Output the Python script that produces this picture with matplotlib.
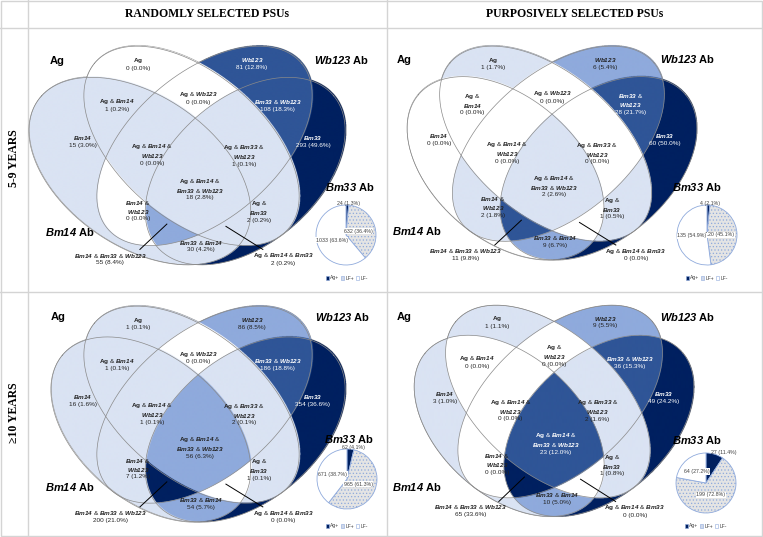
import numpy as np
import matplotlib
matplotlib.use("Agg")
import matplotlib.pyplot as plt
from matplotlib.patches import Rectangle

W, H = 763, 537
plt.rcParams['font.family'] = ['Liberation Sans', 'DejaVu Sans']
plt.rcParams['mathtext.fontset'] = 'custom'
plt.rcParams['mathtext.rm'] = 'Liberation Sans'
plt.rcParams['mathtext.it'] = 'Liberation Sans:italic'
plt.rcParams['mathtext.bf'] = 'Liberation Sans:bold'
plt.rcParams['mathtext.sf'] = 'Liberation Sans:bold:italic'
plt.rcParams['hatch.color'] = '#9a9a9a'
plt.rcParams['hatch.linewidth'] = 0.5

# ---------------- data ----------------
col_titles = ["RANDOMLY SELECTED PSUs", "PURPOSIVELY SELECTED PSUs"]
row_titles = ["5-9 YEARS", "\u226510 YEARS"]

regions = ["Ag", "Wb123", "Bm14", "Bm33", "Ag&Bm14", "Ag&Wb123", "Bm33&Wb123",
           "Bm14&Wb123", "Bm33&Bm14", "Ag&Bm14&Wb123", "Ag&Bm33&Wb123", "Ag&Bm33",
           "Ag&Bm14&Bm33", "Bm14&Bm33&Wb123", "Ag&Bm14&Bm33&Wb123"]

counts_rand_59 = [0, 81, 15, 293, 1, 0, 108, 0, 30, 0, 1, 2, 2, 55, 18]
pct_rand_59 = [0.0, 12.8, 3.0, 49.6, 0.2, 0.0, 18.3, 0.0, 4.2, 0.0, 0.1, 0.2, 0.2, 8.4, 2.8]
shade_rand_59 = [0, 3, 1, 4, 1, 0, 3, 0, 1, 1, 1, 1, 1, 2, 1]

counts_purp_59 = [1, 6, 0, 60, 0, 0, 28, 2, 9, 0, 0, 1, 0, 11, 2]
pct_purp_59 = [1.7, 5.4, 0.0, 50.0, 0.0, 0.0, 21.7, 1.8, 6.7, 0.0, 0.0, 0.5, 0.0, 9.8, 2.6]
shade_purp_59 = [1, 2, 0, 4, 0, 0, 3, 1, 2, 0, 0, 1, 0, 3, 1]

counts_rand_10 = [1, 86, 16, 354, 1, 0, 186, 7, 54, 1, 2, 1, 0, 200, 56]
pct_rand_10 = [0.1, 8.5, 1.6, 36.6, 0.1, 0.0, 18.8, 1.2, 5.7, 0.1, 0.1, 0.1, 0.0, 21.0, 6.3]
shade_rand_10 = [1, 2, 1, 4, 1, 0, 3, 1, 2, 1, 1, 1, 0, 4, 2]

counts_purp_10 = [1, 9, 3, 49, 0, 0, 36, 0, 10, 0, 2, 1, 0, 65, 23]
pct_purp_10 = [1.1, 5.5, 1.0, 24.2, 0.0, 0.0, 15.3, 0.0, 5.0, 0.0, 1.6, 0.8, 0.0, 33.6, 12.0]
shade_purp_10 = [1, 2, 1, 4, 0, 0, 3, 0, 2, 0, 1, 1, 0, 4, 3]

# pie: Ag+, LF+, LF-
pie_labels = ["Ag+", "LF+", "LF-"]
pie_rand_59 = [24, 632, 1033]
pie_pct_rand_59 = [1.3, 36.4, 63.6]
pie_purp_59 = [4, 120, 135]
pie_pct_purp_59 = [2.1, 45.1, 54.9]
pie_rand_10 = [62, 965, 671]
pie_pct_rand_10 = [4.1, 61.3, 38.7]
pie_purp_10 = [27, 199, 64]
pie_pct_purp_10 = [11.4, 72.8, 27.2]

# label text of each region (line breaks per panel)
base_names = ["Ag", "Wb123", "Bm14", "Bm33", "Ag & Bm14", "Ag & Wb123", "Bm33 & Wb123",
              "Bm14 &\nWb123", "Bm33 & Bm14", "Ag & Bm14 &\nWb123", "Ag & Bm33 &\nWb123",
              "Ag &\nBm33", "Ag & Bm14 & Bm33", "Bm14 & Bm33 & Wb123",
              "Ag & Bm14 &\nBm33 & Wb123"]
names_purp_59 = list(base_names)
names_purp_59[4] = "Ag &\nBm14"
names_purp_59[6] = "Bm33 &\nWb123"
names_purp_10 = list(base_names)
names_purp_10[5] = "Ag &\nWb123"

# ---------------- geometry (template, unit square, y up) ----------------
set_bits = {"Ag": 1, "Bm14": 2, "Wb123": 4, "Bm33": 8}
ellipses = [  # name, cx, cy, width, height, angle
    ("Bm14", 0.350, 0.400, 0.72, 0.45, 140.0),
    ("Ag", 0.4768, 0.4775, 0.79, 0.45, 140.0),
    ("Wb123", 0.5172, 0.4775, 0.79, 0.45, 40.0),
    ("Bm33", 0.644, 0.400, 0.72, 0.45, 40.0),
]
label_uv = [(0.310, 0.732), (0.665, 0.732), (0.139, 0.492), (0.855, 0.492),
            (0.245, 0.604), (0.497, 0.626), (0.745, 0.604), (0.310, 0.280),
            (0.506, 0.171), (0.354, 0.452), (0.640, 0.450), (0.687, 0.277),
            (0.762, 0.131), (0.223, 0.131), (0.503, 0.346)]
external = {12: ((0.699, 0.159), (0.584, 0.230)), 13: ((0.316, 0.159), (0.400, 0.237))}

shade_colors = ['#FFFFFF', '#DAE3F3', '#8FAADC', '#2F5597', '#002060']
navy = '#002060'

layout = [
    dict(axx=198, top=45, sx=321, sy=325, stretch={"Bm14": 1.11}, pie=(346, 235),
         agl=(57, 61), wbl=(342, 60), b14l=(70, 232), b33l=(350, 187), leg=(348, 278)),
    dict(axx=552, top=45, sx=316, sy=318, stretch={}, pie=(707, 235),
         agl=(404, 60), wbl=(688, 59), b14l=(417, 231), b33l=(697, 187), leg=(708, 278)),
    dict(axx=198, top=305, sx=321, sy=321, stretch={}, pie=(347, 479),
         agl=(58, 317), wbl=(343, 317), b14l=(70, 487), b33l=(349, 439), leg=(348, 526)),
    dict(axx=554, top=304, sx=305, sy=314, stretch={}, pie=(706, 483),
         agl=(404, 317), wbl=(688, 317), b14l=(417, 487), b33l=(697, 440), leg=(707, 526)),
]
panels = [
    (counts_rand_59, pct_rand_59, shade_rand_59, base_names, pie_rand_59, pie_pct_rand_59),
    (counts_purp_59, pct_purp_59, shade_purp_59, names_purp_59, pie_purp_59, pie_pct_purp_59),
    (counts_rand_10, pct_rand_10, shade_rand_10, base_names, pie_rand_10, pie_pct_rand_10),
    (counts_purp_10, pct_purp_10, shade_purp_10, names_purp_10, pie_purp_10, pie_pct_purp_10),
]

fig = plt.figure(figsize=(W / 100, H / 100), dpi=100)
ax = fig.add_axes([0, 0, 1, 1])
ax.set_xlim(0, W)
ax.set_ylim(H, 0)
ax.axis('off')

# ---------------- grid / titles ----------------
gc = '#d4d4d4'
ax.add_patch(Rectangle((0.5, 0.5), W - 1.5, H - 1.5, fill=False, ec=gc, lw=1))
for x in (28, 387):
    ax.plot([x, x], [0, H], color=gc, lw=1)
for y in (28, 292):
    ax.plot([0, W], [y, y], color=gc, lw=1)
serif = ['Liberation Serif', 'DejaVu Serif']
for x, t in zip((207, 575), col_titles):
    ax.text(x, 14, t, ha='center', va='center', fontsize=8.5, fontweight='bold', family=serif)
for y, t in zip((158, 413), row_titles):
    ax.text(14, y, t, ha='center', va='center', rotation=90, fontsize=8.5,
            fontweight='bold', family=serif)


def fmt_names(s):
    out = []
    for ln in s.split("\n"):
        parts = []
        for tok in ln.split(" "):
            if tok == "&":
                parts.append("&")
            elif tok == "Ag":
                parts.append(r"$\mathbf{Ag}$")
            else:
                parts.append(r"$\mathsf{%s}$" % tok)
        out.append(" ".join(parts))
    return "\n".join(out)


def to_px(L, u, v):
    return L['axx'] + (u - 0.497) * L['sx'], L['top'] + (0.788 - v) * L['sy']


def ell_geom(cx, cy, w, h, ang):
    t = np.deg2rad(ang)
    a, b = w / 2, h / 2
    half_w = np.sqrt((a * np.cos(t)) ** 2 + (b * np.sin(t)) ** 2)
    return t, a, b, cx + half_w


for L, (cnt, pct, shade, names, pvals, ppct) in zip(layout, panels):
    # region fills
    x0 = L['axx'] - 0.54 * L['sx']
    x1 = L['axx'] + 0.47 * L['sx']
    y0 = L['top'] - 3
    y1 = L['top'] + 0.69 * L['sy']
    xs = np.arange(x0, x1, 0.25)
    ys = np.arange(y0, y1, 0.25)
    PX, PY = np.meshgrid(xs, ys)
    U = 0.497 + (PX - L['axx']) / L['sx']
    V = 0.788 - (PY - L['top']) / L['sy']
    M = np.zeros(U.shape, dtype=int)
    for nm, cx, cy, w, h, ang in ellipses:
        t, a, b, anchor = ell_geom(cx, cy, w, h, ang)
        f = L['stretch'].get(nm, 1.0)
        Uo = anchor + (U - anchor) / f
        du, dv = Uo - cx, V - cy
        xr = du * np.cos(t) + dv * np.sin(t)
        yr = -du * np.sin(t) + dv * np.cos(t)
        M |= ((xr / a) ** 2 + (yr / b) ** 2 <= 1).astype(int) * set_bits[nm]
    lut = np.zeros((16, 4))
    for r, s in zip(regions, shade):
        code = sum(set_bits[p] for p in r.split("&"))
        lut[code] = matplotlib.colors.to_rgba(shade_colors[s])
    img = lut[M]
    ax.imshow(img, extent=(x0, x1, y1, y0), origin='upper', interpolation='antialiased',
              zorder=1, aspect='auto')
    # outlines
    tt = np.linspace(0, 2 * np.pi, 600)
    for nm, cx, cy, w, h, ang in ellipses:
        t, a, b, anchor = ell_geom(cx, cy, w, h, ang)
        f = L['stretch'].get(nm, 1.0)
        u = cx + a * np.cos(tt) * np.cos(t) - b * np.sin(tt) * np.sin(t)
        v = cy + a * np.cos(tt) * np.sin(t) + b * np.sin(tt) * np.cos(t)
        u = anchor + (u - anchor) * f
        px, py = to_px(L, u, v)
        ax.plot(px, py, color='#8a8a8a', lw=0.5, zorder=2)
    # region labels
    for i, r in enumerate(regions):
        u, v = label_uv[i]
        px, py = to_px(L, u, v)
        col = 'white' if (shade[i] >= 3 and i not in external) else '#222222'
        txt = fmt_names(names[i]) + "\n%d (%.1f%%)" % (cnt[i], pct[i])
        ax.text(px, py, txt, ha='center', va='center', fontsize=4.6, linespacing=1.15,
                color=col, zorder=4)
        if i in external:
            (ua, va_), (ub, vb) = external[i]
            xa, ya = to_px(L, ua, va_)
            xb, yb = to_px(L, ub, vb)
            ax.plot([xa, xb], [ya, yb], color='black', lw=0.7, zorder=3)
    # set labels
    ax.text(*L['agl'], "Ag", ha='center', va='center', fontsize=8, fontweight='bold', zorder=5)
    ax.text(*L['wbl'], r"$\mathsf{Wb123}$ $\mathbf{Ab}$", ha='center', va='center',
            fontsize=8, zorder=5)
    ax.text(*L['b14l'], r"$\mathsf{Bm14}$ $\mathbf{Ab}$", ha='center', va='center',
            fontsize=8, zorder=5)
    ax.text(*L['b33l'], r"$\mathsf{Bm33}$ $\mathbf{Ab}$", ha='center', va='center',
            fontsize=8, zorder=5)
    # pie
    pcx, pcy = L['pie']
    rpx = 30
    pax = fig.add_axes([(pcx - rpx) / W, 1 - (pcy + rpx) / H, 2 * rpx / W, 2 * rpx / H])
    wedges, _ = pax.pie(pvals, startangle=90, counterclock=False,
                        colors=[navy, '#e4e4e4', 'white'],
                        wedgeprops=dict(edgecolor='#8FAADC', linewidth=0.6))
    wedges[1].set_hatch('.....')
    pax.set_xlim(-1, 1)
    pax.set_ylim(-1, 1)
    pax.set_aspect('equal')
    pax.axis('off')
    tot = sum(pvals)
    ang0 = 0.0
    for k, (val, pp) in enumerate(zip(pvals, ppct)):
        span = val / tot * 360
        mid = np.deg2rad(ang0 + span / 2)
        ang0 += span
        lab = "%d (%.1f%%)" % (val, pp)
        if k == 0:
            pax.text(np.sin(mid) * 2.0, np.cos(mid) * 0.97, lab, ha='center', va='bottom',
                     fontsize=3.8, color='#404040', clip_on=False)
        else:
            rr = 0.42 if k == 1 else 0.5
            pax.text(np.sin(mid) * rr, np.cos(mid) * rr, lab, ha='center', va='center',
                     fontsize=3.8, color='#404040', clip_on=False,
                     bbox=dict(fc='white', ec='none', pad=0.4))
    # legend
    lx, ly = L['leg']
    xx = lx - 22
    for k, (lab, fc) in enumerate(zip(pie_labels, [navy, '#cfd8ea', 'white'])):
        ax.add_patch(Rectangle((xx, ly - 1.6), 3.2, 3.2, fc=fc, ec='#8FAADC', lw=0.4, zorder=5))
        ax.text(xx + 4.2, ly, lab, ha='left', va='center', fontsize=3.6, color='#404040')
        xx += 15

fig.savefig("out.png", dpi=100)
